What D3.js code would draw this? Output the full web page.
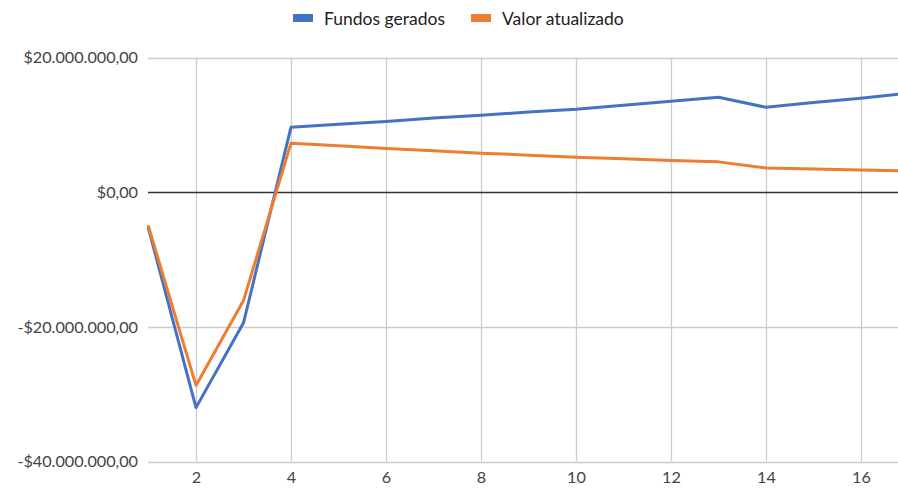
<!DOCTYPE html>
<html>
<head>
<meta charset="utf-8">
<script src="https://cdn.jsdelivr.net/npm/d3@7"></script>
<style>
  html, body { margin: 0; padding: 0; background: #fff; }
  svg { display: block; font-family: Lato, "Noto Sans", sans-serif; }
</style>
</head>
<body>
<svg id="chart" width="898" height="491"></svg>
<script>
// Periods (years) and the two cash-flow series, in reais
const periods = [1, 2, 3, 4, 5, 6, 7, 8, 9, 10, 11, 12, 13, 14, 15, 16, 17];
const fundosGerados = [-5400000, -32000000, -19400000, 9650000, 10100000, 10500000, 11000000,
  11430000, 11900000, 12300000, 12900000, 13500000, 14100000, 12600000, 13300000, 13960000, 14700000];
const valorAtualizado = [-5100000, -28700000, -16100000, 7280000, 6900000, 6490000, 6150000,
  5790000, 5500000, 5200000, 4950000, 4700000, 4500000, 3600000, 3450000, 3300000, 3150000];
const seriesNames = ["Fundos gerados", "Valor atualizado"];
const seriesColors = ["#4472C4", "#ED7D31"];
const yTicks = [-40000000, -20000000, 0, 20000000];
const xTicks = [2, 4, 6, 8, 10, 12, 14, 16];

const svg = d3.select("#chart");
const W = 898, H = 491;
const plot = { left: 148, top: 57, bottom: 461, right: 898 };

const x = d3.scaleLinear().domain([1, 17]).range([148.5, 148.5 + 16 * 47.5]);
const y = d3.scaleLinear().domain([-40000000, 20000000]).range([461.5, 57.5]);

const locale = d3.formatLocale({ decimal: ",", thousands: ".", grouping: [3], currency: ["$", ""], minus: "-" });
const fmt = locale.format("$,.2f");

// Gridlines
const grid = svg.append("g");
grid.selectAll("line.h").data(yTicks.filter(d => d !== 0)).join("line")
  .attr("x1", plot.left).attr("x2", plot.right)
  .attr("y1", d => Math.round(y(d)) + 0.5).attr("y2", d => Math.round(y(d)) + 0.5)
  .attr("stroke", "#cccccc").attr("stroke-width", 1.3);
grid.selectAll("line.v").data(xTicks).join("line")
  .attr("x1", d => Math.round(x(d)) + 0.5).attr("x2", d => Math.round(x(d)) + 0.5)
  .attr("y1", y(20000000)).attr("y2", y(-40000000))
  .attr("stroke", "#cccccc").attr("stroke-width", 1.3);

// Zero baseline
svg.append("line")
  .attr("x1", plot.left).attr("x2", plot.right)
  .attr("y1", Math.round(y(0)) + 0.5).attr("y2", Math.round(y(0)) + 0.5)
  .attr("stroke", "#333333").attr("stroke-width", 1.3);

// Y axis labels
const yAxis = d3.axisLeft(y).tickValues(yTicks).tickFormat(fmt).tickSize(0).tickPadding(10);
const ya = svg.append("g").attr("transform", `translate(${plot.left},0)`).call(yAxis);
ya.select(".domain").remove();
ya.selectAll("text").attr("font-size", 16.2).attr("fill", "#444").attr("font-family", "Lato, 'Noto Sans', sans-serif");

// X axis labels
const xAxis = d3.axisBottom(x).tickValues(xTicks).tickFormat(d3.format("d")).tickSize(0).tickPadding(10);
const xa = svg.append("g").attr("transform", `translate(0,${plot.bottom})`).call(xAxis);
xa.select(".domain").remove();
xa.selectAll("text").attr("font-size", 16.2).attr("fill", "#444").attr("font-family", "Lato, 'Noto Sans', sans-serif");

// Clip lines to the plotting area
svg.append("defs").append("clipPath").attr("id", "plotclip")
  .append("rect").attr("x", plot.left - 2).attr("y", 0).attr("width", plot.right - plot.left + 2).attr("height", H);

const line = d3.line().x((d, i) => x(periods[i])).y(d => y(d));
const lines = svg.append("g").attr("clip-path", "url(#plotclip)");
[fundosGerados, valorAtualizado].forEach((vals, k) => {
  lines.append("path").datum(vals)
    .attr("d", line)
    .attr("fill", "none")
    .attr("stroke", seriesColors[k])
    .attr("stroke-width", 3)
    .attr("stroke-linejoin", "round")
    .attr("stroke-linecap", "round");
});

// Legend
const legend = svg.append("g");
const legendX = [293, 471];
seriesNames.forEach((name, k) => {
  legend.append("rect").attr("x", legendX[k]).attr("y", 14).attr("width", 20).attr("height", 8)
    .attr("fill", seriesColors[k]);
  legend.append("text").attr("x", legendX[k] + 31).attr("y", 25)
    .attr("font-size", 17.5).attr("fill", "#222").text(name);
});
</script>
</body>
</html>
